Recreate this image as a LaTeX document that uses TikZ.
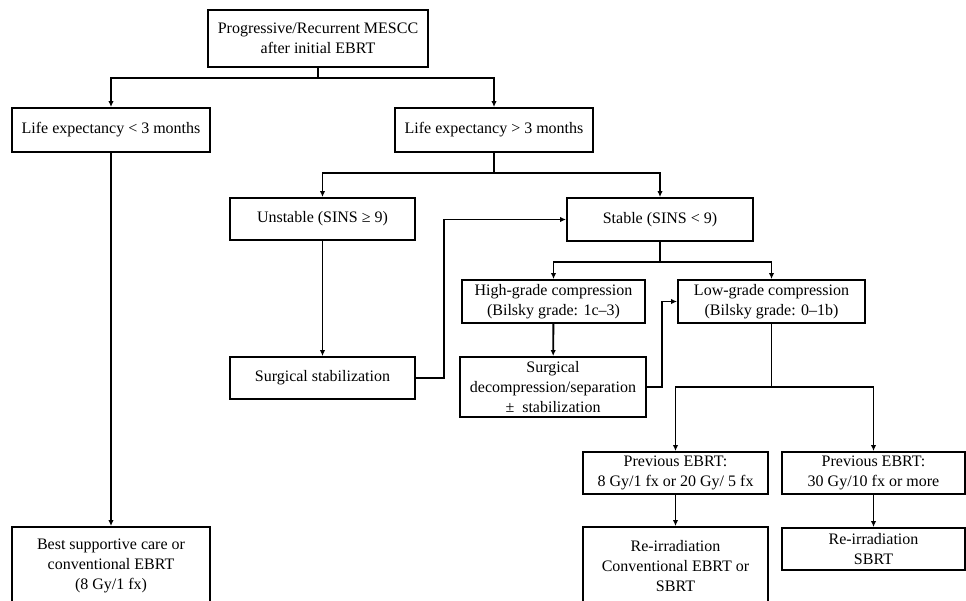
\documentclass[tikz,border=0pt]{standalone}
\usepackage{fontspec}
\setmainfont{Liberation Serif}
\usepackage{tikz}
\usetikzlibrary{arrows.meta,positioning,calc}

\tikzset{
    box/.style={draw, line width=1.4pt, align=center, inner sep=2pt,
        font=\fontsize{12}{15}\selectfont},
    link/.style={line width=1.4pt},
    arr/.style={link, -{Latex[length=4.5pt,width=4pt]}}
}

\begin{document}
\begin{tikzpicture}[x=0.75pt, y=-0.75pt]
    \useasboundingbox (0,0) rectangle (966,600);

    % Boxes (positions in pixels of the figure)
    \node[box, minimum width=165pt, minimum height=42.75pt] (start) at (318,38.5)
        {Progressive/Recurrent MESCC\\after initial EBRT};
    \node[box, minimum width=148.5pt, minimum height=33pt] (short) at (111,130)
        {Life expectancy < 3 months};
    \node[box, minimum width=148.5pt, minimum height=33pt] (long) at (494,130)
        {Life expectancy > 3 months};
    \node[box, minimum width=138.75pt, minimum height=31.5pt] (unstable) at (322.5,219)
        {Unstable (SINS ≥ 9)};
    \node[box, minimum width=139.5pt, minimum height=32.25pt] (stable) at (660,219.5)
        {Stable (SINS < 9)};
    \node[box, minimum width=137.25pt, minimum height=32.25pt] (high) at (553.5,301.5)
        {High-grade compression\\(Bilsky grade: 1c--3)};
    \node[box, minimum width=140.25pt, minimum height=32.25pt] (low) at (771.5,301.5)
        {Low-grade compression\\(Bilsky grade: 0--1b)};
    \node[box, minimum width=138.75pt, minimum height=31.5pt] (stabil) at (322.5,378)
        {Surgical stabilization};
    \node[box, minimum width=139.5pt, minimum height=45pt] (decomp) at (553,387)
        {Surgical\\decompression/separation\\± \ stabilization};
    \node[box, minimum width=138.75pt, minimum height=31.5pt] (prevlow) at (675.5,473)
        {Previous EBRT:\\8 Gy/1 fx or 20 Gy/ 5 fx};
    \node[box, minimum width=137.25pt, minimum height=31.5pt] (prevhigh) at (873.5,473)
        {Previous EBRT:\\30 Gy/10 fx or more};
    \node[box, minimum width=138.75pt, minimum height=58.5pt] (reirrconv) at (675.5,566)
        {Re-irradiation\\Conventional EBRT or\\SBRT};
    \node[box, minimum width=137.25pt, minimum height=31.5pt] (reirrsbrt) at (873.5,549)
        {Re-irradiation\\SBRT};
    \node[box, minimum width=148.5pt, minimum height=58.5pt] (care) at (111,566)
        {Best supportive care or\\conventional EBRT\\(8 Gy/1 fx)};

    % Branch points
    \coordinate (split1) at (318,78);
    \coordinate (split2) at (494,173);
    \coordinate (split3) at (660,262);
    \coordinate (split4) at (771.5,387);

    % Connectors
    \draw[link] (start) -- (split1);
    \draw[arr] (split1) -| (short.north);
    \draw[arr] (split1) -| (long.north);
    \draw[arr] (short) -- (care);

    \draw[link] (long) -- (split2);
    \draw[arr] (split2) -| (unstable.north);
    \draw[arr] (split2) -| (stable.north);
    \draw[arr, line width=0.8pt] (unstable) -- (stabil);
    \draw[arr] (stabil.east) -- ++(28,0) |- (stable.west);

    \draw[link] (stable) -- (split3);
    \draw[arr] (split3) -| (high.north);
    \draw[arr] (split3) -| (low.north);
    \draw[arr] (high) -- (decomp);
    \draw[arr] (decomp.east) -- ++(15,0) |- (low.west);

    \draw[link] (low) -- (split4);
    \draw[arr] (split4) -| (prevlow.north);
    \draw[arr] (split4) -| (prevhigh.north);
    \draw[arr] (prevlow) -- (reirrconv);
    \draw[arr] (prevhigh) -- (reirrsbrt);
\end{tikzpicture}
\end{document}
